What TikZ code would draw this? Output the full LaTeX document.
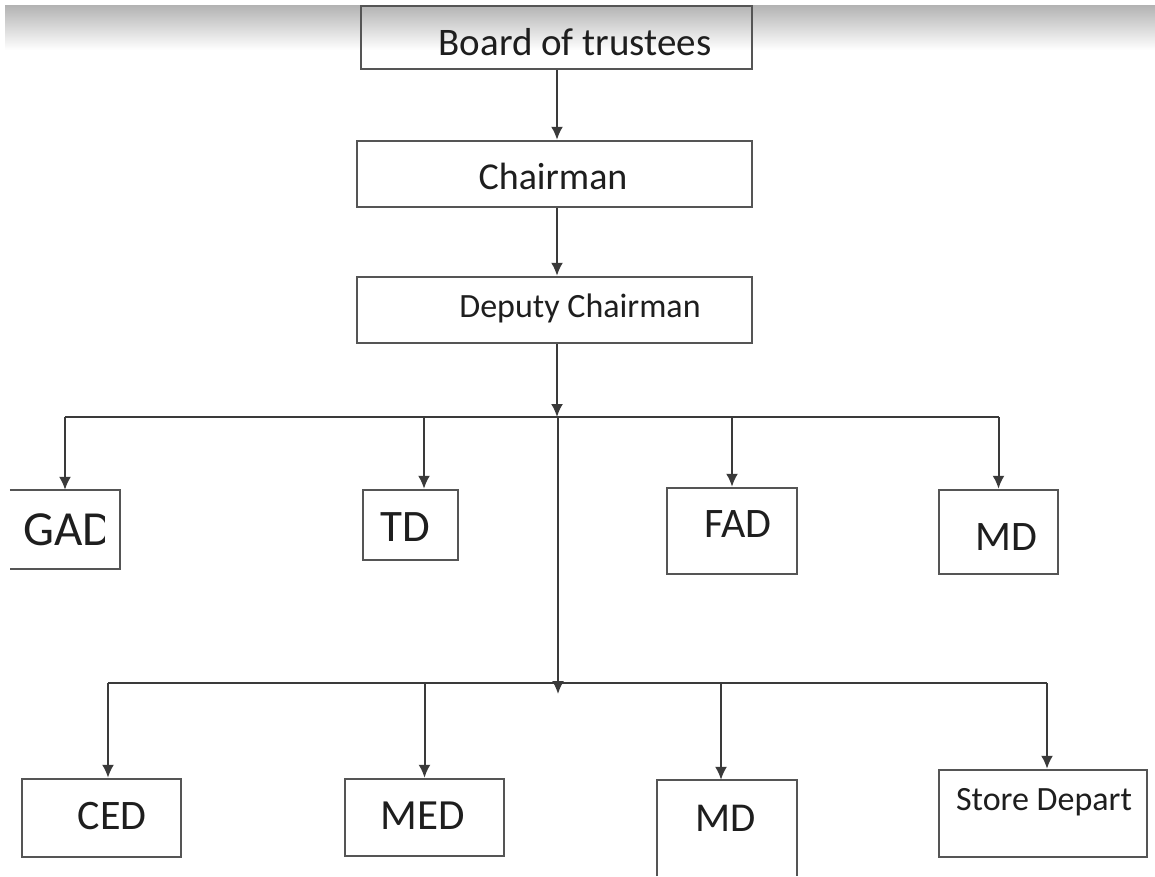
\documentclass[tikz,border=0pt]{standalone}
\usepackage{fontspec}
\setmainfont{Carlito}
\usetikzlibrary{arrows.meta}
\definecolor{linec}{HTML}{3A3A3A}
\definecolor{boxc}{HTML}{555555}
\definecolor{txtc}{HTML}{1E1E1E}
\tikzset{
  box/.style={draw=boxc, line width=2.5pt, inner sep=0pt, fill=white},
  openbox/.style={draw=none, inner sep=0pt},
  side/.style={draw=boxc, line width=2.5pt},
  conn/.style={draw=linec, line width=2pt},
  arr/.style={conn, -{Latex[length=13pt,width=12pt]}},
  lbl/.style={text=txtc, inner sep=0pt},
}
\begin{document}
\begin{tikzpicture}[x=1pt,y=-1pt]
\useasboundingbox (0,0) rectangle (1155,876);
% top gradient band
\shade[top color=black!30, bottom color=white] (5,5) rectangle (1155,50);
% boxes
\node[box, fill=none, minimum width=391pt, minimum height=63pt] (board) at (556.5,37.5) {};
\node[box, minimum width=395pt, minimum height=66pt] (chair) at (554.5,174) {};
\node[box, minimum width=395pt, minimum height=66pt] (deputy) at (554.5,310) {};
\node[openbox, minimum width=110pt, minimum height=79pt] (gad) at (65,529.5) {};
\node[box, minimum width=95pt, minimum height=70pt] (td) at (410.5,525) {};
\node[box, minimum width=130pt, minimum height=86pt] (fad) at (732,531) {};
\node[box, minimum width=119pt, minimum height=84pt] (mdA) at (998.5,532) {};
\node[box, minimum width=159pt, minimum height=78pt] (ced) at (101.5,818) {};
\node[box, minimum width=159pt, minimum height=77pt] (med) at (424.5,817.5) {};
\node[openbox, minimum width=140pt, minimum height=96pt] (mdB) at (727,828) {};
\node[box, minimum width=208pt, minimum height=87pt] (store) at (1043,813.5) {};
% open-sided boxes
\draw[side] (gad.north west) -- (gad.north east) -- (gad.south east) -- (gad.south west);
\draw[side] (mdB.south west) -- (mdB.north west) -- (mdB.north east) -- (mdB.south east);
% labels
\node[lbl, font=\fontsize{39}{42}\selectfont] (tboard) at (575,42) {Board of trustees};
\node[lbl, font=\fontsize{38}{42}\selectfont] (tchair) at (553,176) {Chairman};
\node[lbl, font=\fontsize{34}{38}\selectfont] (tdep) at (580,308) {Deputy Chairman};
\begin{scope}
\clip (10,480) rectangle (104,580);
\node[lbl, anchor=west, font=\fontsize{49}{52}\selectfont] (tgad) at (23,530) {GAD};
\end{scope}
\node[lbl, font=\fontsize{45}{48}\selectfont] (ttd) at (405,527) {TD};
\node[lbl, font=\fontsize{42}{46}\selectfont] (tfad) at (738,524) {FAD};
\node[lbl, font=\fontsize{42}{46}\selectfont] (tmdA) at (1006,537) {MD};
\node[lbl, font=\fontsize{42}{46}\selectfont] (tced) at (112,816) {CED};
\node[lbl, font=\fontsize{43}{46}\selectfont] (tmed) at (423,816) {MED};
\node[lbl, font=\fontsize{41}{44}\selectfont] (tmdB) at (726,818) {MD};
\node[lbl, font=\fontsize{34}{38}\selectfont] (tstore) at (1044,802) {Store Depart};
% junctions
\coordinate (j1) at (557,417);
\coordinate (j2) at (558,683);
% connectors
\draw[arr] (board.south -| j1) -- (chair.north -| j1);
\draw[arr] (chair.south -| j1) -- (deputy.north -| j1);
\draw[arr] (deputy.south -| j1) -- (j1);
\draw[conn] (gad.north |- j1) -- (mdA.north |- j1);
\draw[arr] ([xshift=1pt]j1) -- ([yshift=-11pt]j2);
\draw[arr] (gad.north |- j1) -- (gad.north);
\draw[arr] ([xshift=13.5pt]td.north |- j1) -- ([xshift=13.5pt]td.north);
\draw[arr] (fad.north |- j1) -- (fad.north);
\draw[arr] (mdA.north |- j1) -- (mdA.north);
\draw[conn] ([xshift=6.5pt]ced.north |- j2) -- ([xshift=4pt]store.north |- j2);
\draw[arr] ([xshift=6.5pt]ced.north |- j2) -- ([xshift=6.5pt]ced.north);
\draw[arr] (med.north |- j2) -- (med.north);
\draw[arr] ([xshift=-6pt]mdB.north |- j2) -- ([xshift=-6pt]mdB.north);
\draw[arr] ([xshift=4pt]store.north |- j2) -- ([xshift=4pt]store.north);
\end{tikzpicture}
\end{document}
